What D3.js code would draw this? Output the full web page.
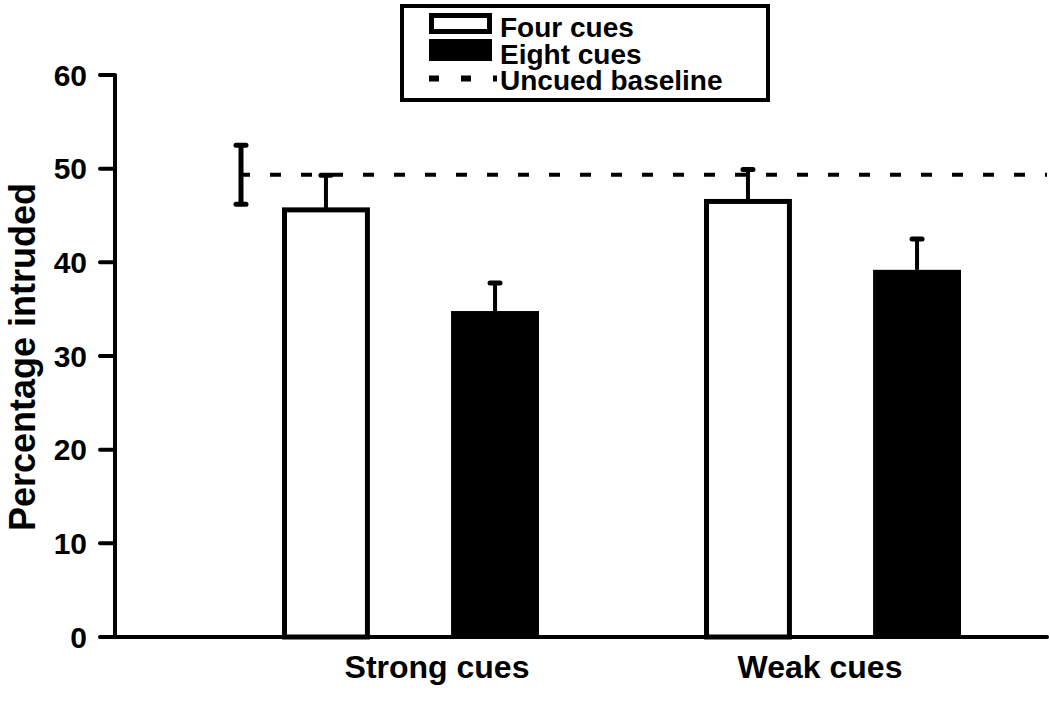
<!DOCTYPE html>
<html>
<head>
<meta charset="utf-8">
<script src="https://cdn.jsdelivr.net/npm/d3@7"></script>
<style>
  body { margin: 0; background: #fff; }
  svg text { font-family: "Liberation Sans", Arial, sans-serif; font-weight: bold; fill: #000; }
</style>
</head>
<body>
<svg id="chart" width="1050" height="702"></svg>
<script>
// ---- data ----
const groups = ["Strong cues", "Weak cues"];
const series = ["Four cues", "Eight cues"];
const fourCues = [45.6, 46.5];
const eightCues = [34.8, 39.2];
const fourErr = [3.7, 3.4];
const eightErr = [3.0, 3.3];
const baseline = 49.35;
const baselineErr = 3.15;
const yTicks = [0, 10, 20, 30, 40, 50, 60];
const legendLabels = ["Four cues", "Eight cues", "Uncued baseline"];

const values = [fourCues, eightCues];
const errors = [fourErr, eightErr];

const svg = d3.select("#chart");

// ---- scales ----
const y = d3.scaleLinear().domain([0, 60]).range([637, 75]);
const xGroup = d3.scaleBand().domain(groups).range([200, 1044]);
const xSub = d3.scaleBand().domain(series).range([82, 339]).paddingInner(0.48).paddingOuter(0);
const axisLeft = 115, axisRight = 1047;
const baselineX = xGroup.range()[0] + 41;

// ---- axes ----
const yAxis = svg.append("g");
yAxis.append("line")
  .attr("x1", axisLeft).attr("x2", axisLeft)
  .attr("y1", y(60)).attr("y2", y(0))
  .attr("stroke", "#000").attr("stroke-width", 4);
yAxis.selectAll(".tick").data(yTicks).join("line")
  .attr("x1", 100).attr("x2", axisLeft)
  .attr("y1", d => y(d)).attr("y2", d => y(d))
  .attr("stroke", "#000").attr("stroke-width", 4).attr("stroke-linecap", "round");
yAxis.selectAll(".lab").data(yTicks).join("text")
  .attr("x", 87).attr("y", d => y(d))
  .attr("dy", "0.36em")
  .attr("text-anchor", "end")
  .style("font-size", "30px")
  .text(d => d);

svg.append("text")
  .attr("transform", `translate(35,357) rotate(-90)`)
  .attr("text-anchor", "middle")
  .style("font-size", "36px")
  .text("Percentage intruded");

// ---- bars ----
groups.forEach((g, gi) => {
  series.forEach((s, si) => {
    const v = values[si][gi];
    const x0 = xGroup(g) + xSub(s);
    const w = xSub.bandwidth();
    if (si === 0) {
      svg.append("rect")
        .attr("x", x0 + 2.5).attr("y", y(v))
        .attr("width", w - 5).attr("height", y(0) - y(v))
        .attr("fill", "#fff").attr("stroke", "#000").attr("stroke-width", 5);
    } else {
      svg.append("rect")
        .attr("x", x0).attr("y", y(v))
        .attr("width", w).attr("height", y(0) - y(v))
        .attr("fill", "#000");
    }
    // error bar (upper half only)
    const cx = x0 + w / 2;
    const top = y(v + errors[si][gi]);
    svg.append("line")
      .attr("x1", cx).attr("x2", cx)
      .attr("y1", y(v)).attr("y2", top)
      .attr("stroke", "#000").attr("stroke-width", 4);
    svg.append("line")
      .attr("x1", cx - 5).attr("x2", cx + 5)
      .attr("y1", top).attr("y2", top)
      .attr("stroke", "#000").attr("stroke-width", 5).attr("stroke-linecap", "round");
  });
});

// ---- x axis ----
svg.append("line")
  .attr("x1", axisLeft - 3).attr("x2", axisRight)
  .attr("y1", y(0)).attr("y2", y(0))
  .attr("stroke", "#000").attr("stroke-width", 4).attr("stroke-linecap", "round");

const labelOffset = [26, -13];
svg.selectAll(".xlab").data(groups).join("text")
  .attr("x", (d, i) => xGroup(d) + xGroup.bandwidth() / 2 + labelOffset[i])
  .attr("y", 678)
  .attr("text-anchor", "middle")
  .style("font-size", "32px")
  .text(d => d);

// ---- uncued baseline ----
svg.append("line")
  .attr("x1", baselineX - 2).attr("x2", axisRight)
  .attr("y1", y(baseline)).attr("y2", y(baseline))
  .attr("stroke", "#000").attr("stroke-width", 4)
  .attr("stroke-dasharray", "11 20");
svg.append("line")
  .attr("x1", baselineX).attr("x2", baselineX)
  .attr("y1", y(baseline - baselineErr)).attr("y2", y(baseline + baselineErr))
  .attr("stroke", "#000").attr("stroke-width", 5);
[baseline - baselineErr, baseline + baselineErr].forEach(v => {
  svg.append("line")
    .attr("x1", baselineX - 5).attr("x2", baselineX + 5)
    .attr("y1", y(v)).attr("y2", y(v))
    .attr("stroke", "#000").attr("stroke-width", 5).attr("stroke-linecap", "round");
});

// ---- legend ----
const legend = svg.append("g");
legend.append("rect")
  .attr("x", 402).attr("y", 6).attr("width", 366).attr("height", 94)
  .attr("fill", "#fff").attr("stroke", "#000").attr("stroke-width", 4);
legend.append("rect")
  .attr("x", 431.5).attr("y", 15.5).attr("width", 58).attr("height", 16)
  .attr("fill", "#fff").attr("stroke", "#000").attr("stroke-width", 5);
legend.append("rect")
  .attr("x", 429).attr("y", 39).attr("width", 63).attr("height", 22)
  .attr("fill", "#000");
legend.append("line")
  .attr("x1", 429).attr("x2", 497)
  .attr("y1", 78.5).attr("y2", 78.5)
  .attr("stroke", "#000").attr("stroke-width", 6)
  .attr("stroke-dasharray", "10 22");
legend.selectAll("text").data(legendLabels).join("text")
  .attr("x", 500)
  .attr("y", (d, i) => 37 + i * 26.5)
  .style("font-size", "28px")
  .text(d => d);
</script>
</body>
</html>
